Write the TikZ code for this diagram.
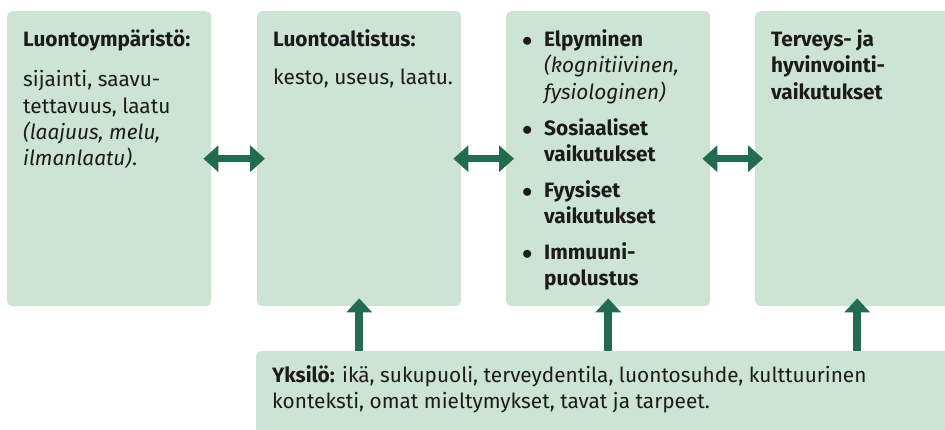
\documentclass[tikz,border=0pt]{standalone}
\usepackage{fontspec}
\setmainfont{Fira Sans}
\usepackage{tikz}
\usetikzlibrary{arrows.meta}
\usetikzlibrary{calc}
\definecolor{boxgreen}{HTML}{CDE4D4}
\definecolor{arrowgreen}{HTML}{226A50}
\definecolor{ink}{HTML}{1B1B1B}
\tikzset{%
    panel/.style={fill=boxgreen,rounded corners=5pt,inner sep=0pt,anchor=north west,
        minimum width=204pt,minimum height=295pt},
    paneltext/.style={anchor=north west,inner xsep=16pt,inner ysep=17pt,align=left,
        text=ink,font=\fontsize{20.8}{26.3}\selectfont},
    twoway/.style={draw=arrowgreen,line width=7pt,
        {Triangle[length=15pt,width=26pt]}-{Triangle[length=15pt,width=26pt]},
        shorten <=-8pt,shorten >=-8pt},
    oneway/.style={draw=arrowgreen,line width=7.5pt,-{Triangle[length=14pt,width=25pt]},
        shorten >=-8pt},
}
\newcommand{\itemdot}{\makebox[22pt][l]{$\bullet$}}
\newcommand{\itemgap}{\hspace*{22pt}}

\begin{document}
\begin{tikzpicture}[x=1pt,y=-1pt]
  \clip (0,0) rectangle (945,430);

  % upper row
  \node[panel] (ymparisto) at (7,11) {};
  \node[panel] (altistus) at (257,11) {};
  \node[panel] (vaikutus) at (506,11) {};
  \node[panel] (terveys) at (755,11) {};

  \node[paneltext] (ymparistoteksti) at (ymparisto.north west)
    {\strut\textbf{Luontoympäristö:}\\[14pt]
     sijainti, saavu-\\
     tettavuus, laatu\\
     \textit{(laajuus, melu,}\\
     \textit{ilmanlaatu)}.};
  \node[paneltext] (altistusteksti) at (altistus.north west)
    {\strut\textbf{Luontoaltistus:}\\[12pt]
     kesto, useus, laatu.};
  \node[paneltext] (vaikutusteksti) at (vaikutus.north west)
    {\strut\itemdot\textbf{Elpyminen}\\
     \itemgap\textit{(kognitiivinen,}\\
     \itemgap\textit{fysiologinen)}\\[9.5pt]
     \itemdot\textbf{Sosiaaliset}\\
     \itemgap\textbf{vaikutukset}\\[9.5pt]
     \itemdot\textbf{Fyysiset}\\
     \itemgap\textbf{vaikutukset}\\[9.5pt]
     \itemdot\textbf{Immuuni-}\\
     \itemgap\textbf{puolustus}};
  \node[paneltext] (terveysteksti) at (terveys.north west)
    {\strut\textbf{Terveys- ja}\\
     \textbf{hyvinvointi-}\\
     \textbf{vaikutukset}};

  % bottom
  \node[panel,minimum width=720pt,minimum height=120pt] (yksilo) at (256,351) {};
  \node[paneltext,inner ysep=13pt] (yksiloteksti) at (yksilo.north west)
    {\strut\textbf{Yksilö:} ikä, sukupuoli, terveydentila, luontosuhde, kulttuurinen\\
     konteksti, omat mieltymykset, tavat ja tarpeet.};

  % arrows
  \draw[twoway] (ymparisto.east) -- (altistus.west);
  \draw[twoway] (altistus.east) -- (vaikutus.west);
  \draw[twoway] (vaikutus.east) -- (terveys.west);
  \draw[oneway] (yksilo.north -| altistus.south) -- (altistus.south);
  \draw[oneway] (yksilo.north -| vaikutus.south) -- (vaikutus.south);
  \draw[oneway] (yksilo.north -| terveys.south) -- (terveys.south);
\end{tikzpicture}
\end{document}
